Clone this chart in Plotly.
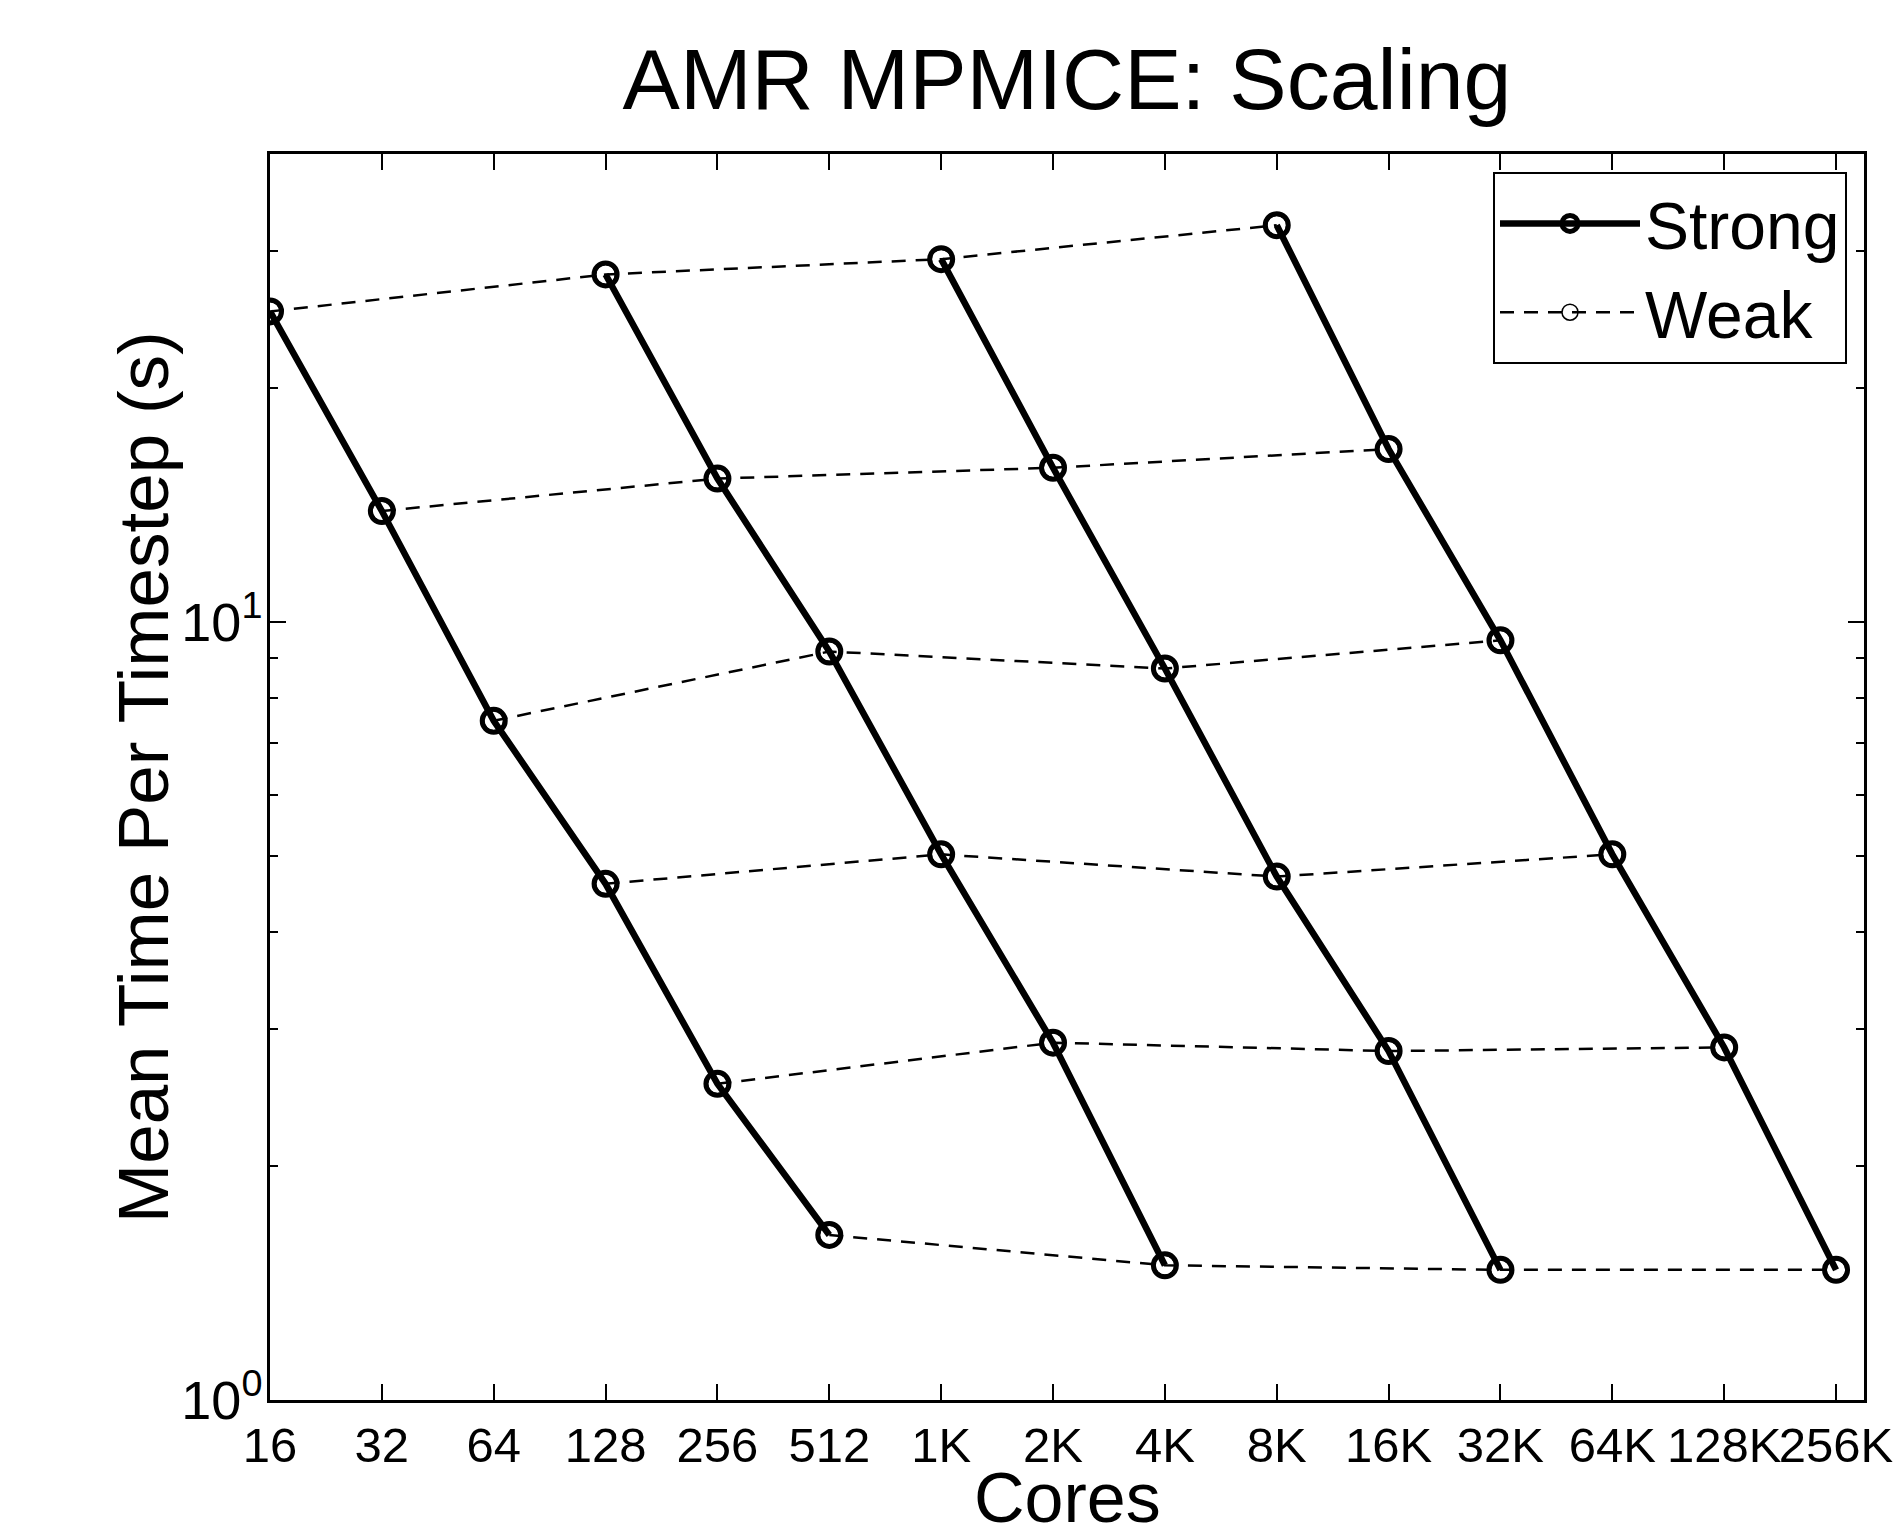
import math
import plotly.graph_objects as go

# ---------------- data ----------------
cores = [16, 32, 64, 128, 256, 512, 1024, 2048, 4096, 8192,
         16384, 32768, 65536, 131072, 262144]
core_labels = ["16", "32", "64", "128", "256", "512", "1K", "2K", "4K", "8K",
               "16K", "32K", "64K", "128K", "256K"]

# strong scaling series (core count -> mean time per timestep, s)
strong1_cores = [16, 32, 64, 128, 256, 512]
strong1_time = [25.1, 13.9, 7.47, 4.61, 2.55, 1.63]
strong2_cores = [128, 256, 512, 1024, 2048, 4096]
strong2_time = [28.0, 15.3, 9.17, 5.03, 2.88, 1.49]
strong3_cores = [1024, 2048, 4096, 8192, 16384, 32768]
strong3_time = [29.3, 15.8, 8.72, 4.71, 2.81, 1.47]
strong4_cores = [8192, 16384, 32768, 65536, 131072, 262144]
strong4_time = [32.4, 16.7, 9.48, 5.03, 2.84, 1.47]

# weak scaling series
weak1_cores = [16, 128, 1024, 8192]
weak1_time = [25.1, 28.0, 29.3, 32.4]
weak2_cores = [32, 256, 2048, 16384]
weak2_time = [13.9, 15.3, 15.8, 16.7]
weak3_cores = [64, 512, 4096, 32768]
weak3_time = [7.47, 9.17, 8.72, 9.48]
weak4_cores = [128, 1024, 8192, 65536]
weak4_time = [4.61, 5.03, 4.71, 5.03]
weak5_cores = [256, 2048, 16384, 131072]
weak5_time = [2.55, 2.88, 2.81, 2.84]
weak6_cores = [512, 4096, 32768, 262144]
weak6_time = [1.63, 1.49, 1.47, 1.47]

y_major = [1, 10]
y_major_labels = ["10<sup>0</sup>", "10<sup>1</sup>"]
y_minor = [2, 3, 4, 5, 6, 7, 8, 9, 20, 30]

strong = [(strong1_cores, strong1_time), (strong2_cores, strong2_time),
          (strong3_cores, strong3_time), (strong4_cores, strong4_time)]
weak = [(weak1_cores, weak1_time), (weak2_cores, weak2_time),
        (weak3_cores, weak3_time), (weak4_cores, weak4_time),
        (weak5_cores, weak5_time), (weak6_cores, weak6_time)]

FONT = "Liberation Sans, Arial, sans-serif"

fig = go.Figure()

for i, (x, y) in enumerate(weak):
    fig.add_trace(go.Scatter(
        x=x, y=y, mode="lines+markers", name="Weak",
        legendgroup="weak", showlegend=(i == 0), legendrank=2,
        line=dict(color="black", width=2.5, dash="14px,10px"),
        marker=dict(symbol="circle-open", size=20, color="black",
                    line=dict(width=1.5, color="black")),
    ))

for i, (x, y) in enumerate(strong):
    fig.add_trace(go.Scatter(
        x=x, y=y, mode="lines+markers", name="Strong",
        legendgroup="strong", showlegend=(i == 0), legendrank=1,
        line=dict(color="black", width=6.5),
        marker=dict(symbol="circle-open", size=23, color="black",
                    line=dict(width=5, color="black")),
    ))

W, H = 1902, 1531
ML, MR, MT, MB = 270, 38, 154, 131
PW, PH = W - ML - MR, H - MT - MB

fig.update_layout(
    width=W, height=H,
    margin=dict(l=ML, r=MR, t=MT, b=MB),
    paper_bgcolor="white", plot_bgcolor="white",
    font=dict(family=FONT, color="black", size=48),
    title=dict(text="AMR MPMICE: Scaling", font=dict(size=86, family=FONT),
               x=(ML + (W - MR)) / 2 / W, xanchor="center",
               y=1 - 79 / H, yanchor="middle", yref="container"),
    showlegend=True,
    legend=dict(x=(1847 - ML) / PW, y=1 - (172 - MT) / PH,
                xanchor="right", yanchor="top",
                bgcolor="white", bordercolor="black", borderwidth=2,
                font=dict(size=66, family=FONT), itemwidth=140,
                tracegroupgap=0),
    annotations=[
        dict(text="Cores", xref="paper", yref="paper",
             x=0.5, y=-(1498 - (MT + PH)) / PH, xanchor="center", yanchor="middle",
             showarrow=False, font=dict(size=70, family=FONT)),
        dict(text="Mean Time Per Timestep (s)", xref="paper", yref="paper",
             x=(143 - ML) / PW, y=0.5, xanchor="center", yanchor="middle",
             textangle=-90, showarrow=False, font=dict(size=71, family=FONT)),
    ],
)

fig.update_xaxes(
    type="log", automargin=False,
    range=[math.log10(cores[0]), math.log10(cores[-1]) + 0.25 * math.log10(2)],
    tickmode="array", tickvals=cores, ticktext=core_labels, tickangle=0,
    ticks="inside", ticklen=16, tickwidth=2, tickcolor="black",
    showline=True, linecolor="black", linewidth=2.5, mirror="ticks",
    showgrid=False, zeroline=False,
    tickfont=dict(size=49, family=FONT),
)

fig.update_yaxes(
    type="log", automargin=False,
    range=[0, math.log10(40)],
    tickmode="array", tickvals=y_major, ticktext=y_major_labels,
    ticks="inside", ticklen=16, tickwidth=2, tickcolor="black",
    minor=dict(tickmode="array", tickvals=y_minor, ticks="inside",
               ticklen=8, tickwidth=2, tickcolor="black", showgrid=False),
    showline=True, linecolor="black", linewidth=2.5, mirror="allticks",
    showgrid=False, zeroline=False, ticklabelstandoff=-6,
    tickfont=dict(size=54, family=FONT),
)

fig.write_html(
    "out.html",
    config={"displayModeBar": False},
    post_script="document.body.style.margin='0';document.body.style.overflow='hidden';",
)
